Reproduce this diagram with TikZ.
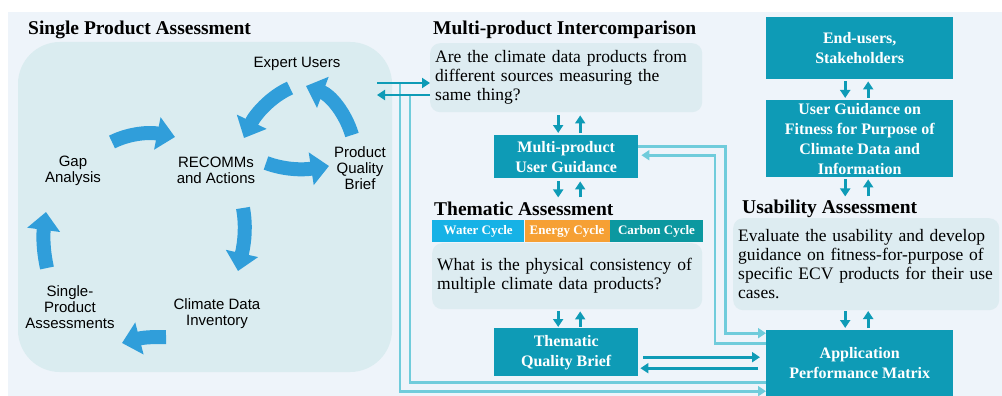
\documentclass[tikz,border=0pt]{standalone}
\usepackage{fontspec}
\setmainfont{Liberation Serif}
\newfontfamily\cyclesans{Liberation Sans}
\usetikzlibrary{arrows.meta,positioning}

\definecolor{panelbg}{RGB}{238,244,250}
\definecolor{spabg}{RGB}{218,236,240}
\definecolor{qboxbg}{RGB}{221,236,241}
\definecolor{tealbox}{RGB}{14,155,182}
\definecolor{tealline}{RGB}{112,204,219}
\definecolor{cycblue}{RGB}{48,158,218}
\definecolor{watercol}{RGB}{22,178,230}
\definecolor{energycol}{RGB}{246,160,52}
\definecolor{carboncol}{RGB}{12,152,160}

\tikzset{
  heading/.style={font=\fontsize{19.5}{22}\selectfont\bfseries, anchor=base west, inner sep=0pt},
  cyclabel/.style={font=\cyclesans\fontsize{15}{16}\selectfont, align=center, inner sep=0pt},
  sparegion/.style={fill=spabg, rounded corners=42pt, minimum width=374pt, minimum height=330pt, inner sep=0pt},
  question/.style={fill=qboxbg, rounded corners=10pt, font=\fontsize{17.5}{19}\selectfont, align=left,
    anchor=north west, inner xsep=5pt, inner ysep=0pt},
  tealnode/.style={fill=tealbox, text=white, font=\fontsize{16}{20}\selectfont\bfseries, align=center,
    inner sep=0pt, anchor=north west},
  cyclebar/.style={text=white, font=\fontsize{13}{14}\selectfont\bfseries, inner sep=0pt,
    minimum height=22pt, anchor=north west},
  cycarrow/.style={draw=cycblue, line width=14pt, -{Triangle[width=32pt,length=18pt]}},
  darkarrow/.style={draw=tealbox, line width=2.6pt, -{Triangle[width=10pt,length=8pt]}},
  lightline/.style={draw=tealline, line width=2.8pt},
  lightarrow/.style={lightline, -{Triangle[width=10pt,length=8pt]}},
}

\begin{document}
\begin{tikzpicture}[x=1pt, y=-1pt]
  \useasboundingbox (0,0) rectangle (1002,396);
  \fill[white] (0,0) rectangle (1002,396);
  \fill[panelbg] (8,12) rectangle (1002,396);

  % Single product assessment cycle
  \node[sparegion] (spaback) at (205,207) {};
  \node[heading] (spatitle) at (28,35) {Single Product Assessment};

  \node[cyclabel] (expert) at (297,64) {Expert Users};
  \node[cyclabel] (gap) at (73,170.5) {Gap\\Analysis};
  \node[cyclabel] (recomm) at (216,170) {RECOMMs\\and Actions};
  \node[cyclabel] (pqbrief) at (360,168.5) {Product\\Quality\\Brief};
  \node[cyclabel] (inventory) at (217,314) {Climate Data\\Inventory};
  \node[cyclabel] (single) at (70,307) {Single-\\Product\\Assessments};

  \draw[cycarrow] ([shift={(39,-28.5)}]gap.center) .. controls +(18,-9) and +(-25,-5) .. ([shift={(-41,-33)}]recomm.center);
  \draw[cycarrow] ([shift={(-7,24)}]expert.center) .. controls +(-20,9) and +(11,-23) .. ([shift={(28,-32)}]recomm.center);
  \draw[cycarrow] ([shift={(-8,-33.5)}]pqbrief.center) .. controls +(-7,-23) and +(24,9) .. ([shift={(9,22)}]expert.center);
  \draw[cycarrow] ([shift={(50,-7)}]recomm.center) .. controls +(19,7) and +(-26,4) .. ([shift={(-31,-2.5)}]pqbrief.center);
  \draw[cycarrow] ([shift={(27,38)}]recomm.center) .. controls +(3,17) and +(7,-31) .. ([shift={(21,-43)}]inventory.center);
  \draw[cycarrow] ([shift={(-51,23)}]inventory.center) .. controls +(-11,0) and +(23,-6) .. ([shift={(52,36)}]single.center);
  \draw[cycarrow] ([shift={(-23,-39)}]single.center) .. controls +(-4,-18) and +(-3,23) .. ([shift={(-27,41.5)}]gap.center);

  % Multi-product intercomparison
  \node[heading] (mpihead) at (433,35) {Multi-product Intercomparison};
  \node[question, text width=262pt, minimum height=69pt] (mpiq) at (430,43)
    {Are the climate data products from\\different sources measuring the\\same thing?};
  \node[tealnode, minimum width=144pt, minimum height=43pt] (mpug) at (494,135) {Multi-product\\User Guidance};

  % Thematic assessment
  \node[heading] (themhead) at (434,215) {Thematic Assessment};
  \node[cyclebar, fill=watercol, minimum width=92pt] (water) at (432,220) {Water Cycle};
  \node[cyclebar, fill=energycol, minimum width=85pt, right=0pt of water] (energy) {Energy Cycle};
  \node[cyclebar, fill=carboncol, minimum width=93pt, right=0pt of energy] (carbon) {Carbon Cycle};
  \node[question, text width=260pt, minimum height=66pt] (themq) at (432,243)
    {What is the physical consistency of\\multiple climate data products?};
  \node[tealnode, minimum width=144pt, minimum height=48pt] (tqb) at (494,328) {Thematic\\Quality Brief};

  % Usability assessment
  \node[tealnode, minimum width=187pt, minimum height=62pt] (endu) at (766,17) {End-users,\\Stakeholders};
  \node[tealnode, minimum width=187pt, minimum height=77pt] (ugd) at (766,100)
    {User Guidance on\\Fitness for Purpose of\\Climate Data and\\Information};
  \node[heading] (usahead) at (742,213) {Usability Assessment};
  \node[question, text width=256pt, minimum height=92pt] (usaq) at (733,218)
    {Evaluate the usability and develop\\guidance on fitness-for-purpose of\\specific ECV products for their use\\cases.};
  \node[tealnode, minimum width=187pt, minimum height=66pt] (apm) at (766,330) {Application\\Performance Matrix};

  % Links between the single product panel and the rest
  \coordinate (spaout) at (377,83);
  \coordinate (spain) at (377,95);
  \coordinate (loopout) at (400,83);
  \coordinate (loopin) at (410,95);
  \draw[lightarrow] (loopout) |- ([yshift=-28pt]apm.west);
  \draw[lightline] ([yshift=-19pt]apm.west) -| (loopin);
  \draw[darkarrow] (spaout) -- (spaout -| mpiq.west);
  \draw[darkarrow] (spain -| mpiq.west) -- (spain);

  % Multi-product guidance to and from the matrix
  \draw[lightarrow] ([yshift=10.5pt]mpug.east) -- ++(87,0) |- ([yshift=30pt]apm.west);
  \draw[lightarrow, shorten >=3pt] ([yshift=20pt]apm.west) -- ++(-51,0) |- ([yshift=1.5pt]mpug.east);

  % Thematic brief to and from the matrix
  \draw[darkarrow, shorten <=5pt, shorten >=6pt] ([yshift=-5pt]tqb.east) -- ([yshift=6pt]apm.west);
  \draw[darkarrow, shorten <=8pt, shorten >=2pt] ([yshift=-5pt]apm.west) -- ([yshift=-16pt]tqb.east);

  % Short up and down arrows
  \draw[darkarrow, shorten <=3pt, shorten >=2pt] ([xshift=-8pt]mpiq.south) -- ([xshift=-8pt]mpug.north);
  \draw[darkarrow, shorten <=2pt, shorten >=3pt] ([xshift=14pt]mpug.north) -- ([xshift=14pt]mpiq.south);
  \draw[darkarrow, shorten <=3pt] ([xshift=-8pt]mpug.south) -- ++(0,19);
  \draw[darkarrow, shorten >=3pt] ([xshift=14pt]mpug.south) ++(0,19) -- ([xshift=14pt]mpug.south);
  \draw[darkarrow, shorten <=2pt, shorten >=1pt] ([xshift=-8pt]tqb.north |- themq.south) -- ([xshift=-8pt]tqb.north);
  \draw[darkarrow, shorten <=1pt, shorten >=2pt] ([xshift=14pt]tqb.north) -- ([xshift=14pt]tqb.north |- themq.south);

  \draw[darkarrow, shorten <=2pt, shorten >=2pt] ([xshift=-14.5pt]endu.south) -- ([xshift=-14.5pt]ugd.north);
  \draw[darkarrow, shorten <=2pt, shorten >=2pt] ([xshift=8.5pt]ugd.north) -- ([xshift=8.5pt]endu.south);
  \draw[darkarrow, shorten <=2pt] ([xshift=-14.5pt]ugd.south) -- ++(0,19);
  \draw[darkarrow, shorten >=2pt] ([xshift=8.5pt]ugd.south) ++(0,19) -- ([xshift=8.5pt]ugd.south);
  \draw[darkarrow, shorten >=2pt] ([xshift=-14.5pt]apm.north) ++(0,-19) -- ([xshift=-14.5pt]apm.north);
  \draw[darkarrow, shorten <=2pt] ([xshift=8.5pt]apm.north) -- ++(0,-19);
\end{tikzpicture}
\end{document}
